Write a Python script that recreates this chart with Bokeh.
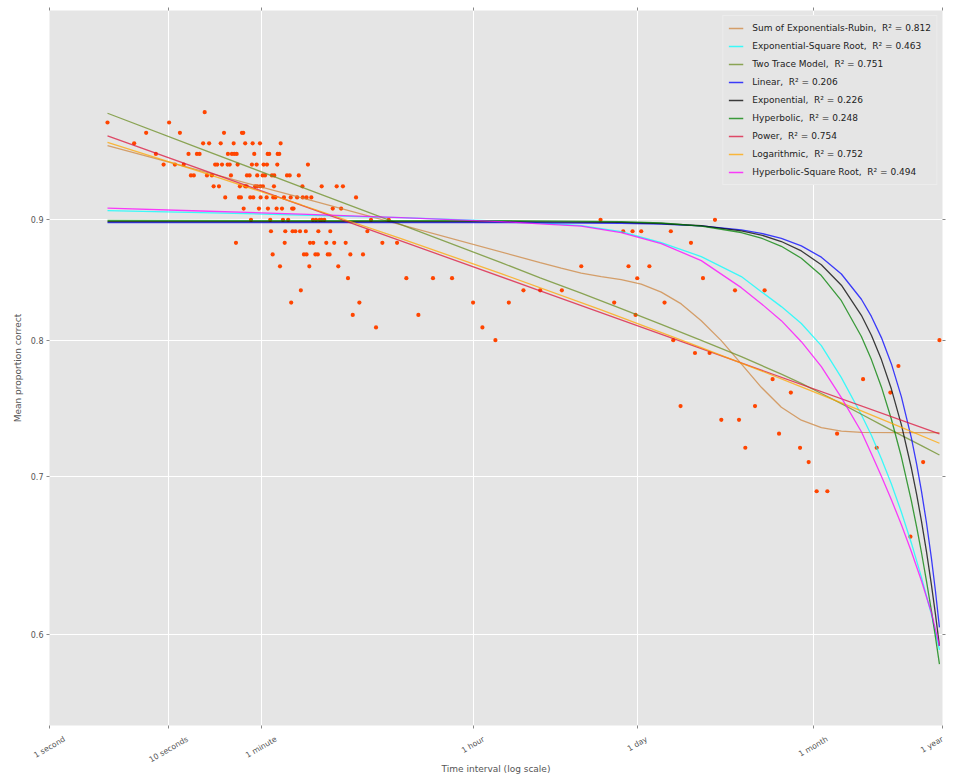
import math
from bokeh.plotting import figure
from bokeh.models import (LogAxis, FixedTicker, PrintfTickFormatter,
                          CustomJSTickFormatter, Legend, LegendItem)
from bokeh.embed import file_html
from bokeh.resources import INLINE

# ---------------------------------------------------------------------------
# Observed retention data: time interval (seconds) and mean proportion correct
# ---------------------------------------------------------------------------
interval_s = [
    20.1,
    3.07, 10.1,
    6.48, 12.45, 29.2, 41.3, 42.4,
    5.14, 19.5, 21.9, 27.4, 35.2, 44.0, 50.8, 58.5, 87.3,
    7.82, 14.7, 17.3, 18.2, 31.5, 34.0, 35.6, 37.3, 52.4, 67.9, 70.0, 82.4, 85.0,
    9.08, 11.3, 13.4, 24.6, 25.6, 28.1, 31.3, 32.6, 38.0, 50.1, 54.9, 62.8, 67.0, 81.8, 148,
    15.4, 16.3, 21.0, 23.1, 33.4, 45.5, 47.9, 55.5, 61.7, 64.5, 73.8, 77.2, 98.7, 104, 124,
    23.9, 26.5, 39.7, 44.0, 45.2, 53.4, 55.5, 58.9, 62.0, 76.7, 133, 193, 258, 291,
    29.9, 39.0, 40.5, 48.5, 51.4, 59.3, 66.6, 75.7, 78.7, 93.1, 106, 120, 134, 144, 158, 375,
    42.7, 57.4, 68.3, 80.8, 89.6, 109, 112, 239, 281,
    49.2, 71.4, 91.3, 101, 163, 173, 186, 193, 203, 501, 706, 42400, 387500,
    72.4, 95.5, 110, 116, 127, 142, 181, 228, 467, 65700, 78700, 93100, 165000,
    36.8, 94.4, 154, 164, 211, 246, 307, 624, 829, 243600,
    74.8, 137, 144, 171, 179, 217, 225, 336, 429,
    86.2, 152, 266, 29200, 72800, 109000,
    321, 992, 1660, 2400, 86150, 307200,
    129, 9550, 13190, 20070, 570600, 1012000,
    107, 400, 3606, 7196, 55200, 146100,
    352, 1252, 83400,
    552, 4319,
    5553, 172900, 29730000,
    263200, 349100,
    13450000,
    1181000, 6790000,
    1680000, 11510000,
    199100, 840400,
    437800, 616600,
    1337000, 4107000,
    696500, 2007000, 8838000,
    2371000, 21690000,
    2767000, 3404000,
    16960000,
]
proportion = [
    1.00,
    0.99, 0.99,
    0.98, 0.98, 0.98, 0.98, 0.98,
    0.97, 0.97, 0.97, 0.97, 0.97, 0.97, 0.97, 0.97, 0.97,
    0.96, 0.96, 0.96, 0.96, 0.96, 0.96, 0.96, 0.96, 0.96, 0.96, 0.96, 0.96, 0.96,
    0.95, 0.95, 0.95, 0.95, 0.95, 0.95, 0.95, 0.95, 0.95, 0.95, 0.95, 0.95, 0.95, 0.95, 0.95,
    0.94, 0.94, 0.94, 0.94, 0.94, 0.94, 0.94, 0.94, 0.94, 0.94, 0.94, 0.94, 0.94, 0.94, 0.94,
    0.93, 0.93, 0.93, 0.93, 0.93, 0.93, 0.93, 0.93, 0.93, 0.93, 0.93, 0.93, 0.93, 0.93,
    0.92, 0.92, 0.92, 0.92, 0.92, 0.92, 0.92, 0.92, 0.92, 0.92, 0.92, 0.92, 0.92, 0.92, 0.92, 0.92,
    0.91, 0.91, 0.91, 0.91, 0.91, 0.91, 0.91, 0.91, 0.91,
    0.90, 0.90, 0.90, 0.90, 0.90, 0.90, 0.90, 0.90, 0.90, 0.90, 0.90, 0.90, 0.90,
    0.89, 0.89, 0.89, 0.89, 0.89, 0.89, 0.89, 0.89, 0.89, 0.89, 0.89, 0.89, 0.89,
    0.88, 0.88, 0.88, 0.88, 0.88, 0.88, 0.88, 0.88, 0.88, 0.88,
    0.87, 0.87, 0.87, 0.87, 0.87, 0.87, 0.87, 0.87, 0.87,
    0.86, 0.86, 0.86, 0.86, 0.86, 0.86,
    0.85, 0.85, 0.85, 0.85, 0.85, 0.85,
    0.84, 0.84, 0.84, 0.84, 0.84, 0.84,
    0.83, 0.83, 0.83, 0.83, 0.83, 0.83,
    0.82, 0.82, 0.82,
    0.81, 0.81,
    0.80, 0.80, 0.80,
    0.79, 0.79,
    0.78,
    0.77, 0.77,
    0.76, 0.76,
    0.75, 0.75,
    0.74, 0.74,
    0.73, 0.73,
    0.72, 0.72, 0.72,
    0.71, 0.71,
    0.69, 0.69,
    0.66,
]

# ---------------------------------------------------------------------------
# Fitted model curves (time in seconds, predicted proportion correct)
# ---------------------------------------------------------------------------
sumexp_t = [3.07, 129.3, 13190, 19800, 29150, 42930, 63220, 93090, 137100, 201800,
            297300, 437800, 644600, 949100, 1.398e6, 2.058e6, 3.030e6, 4.462e6,
            6.571e6, 1.425e7, 2.973e7]
sumexp_v = [0.9679, 0.9197, 0.8631, 0.8585, 0.8543, 0.8514, 0.8489, 0.8451, 0.8385, 0.8289,
            0.8154, 0.7996, 0.7816, 0.7639, 0.7491, 0.7397, 0.7343, 0.7318,
            0.7309, 0.7307, 0.7307]

sqrt_t = [3.07, 18.68, 129.3, 895.8, 6200, 13190, 29150, 63220, 137100, 297300, 644600,
          949100, 1.398e6, 2.058e6, 3.030e6, 4.462e6, 6.571e6, 7.974e6, 9.676e6, 1.174e7,
          1.425e7, 1.729e7, 2.098e7, 2.546e7, 2.973e7]
expsqrt_v = [0.9082, 0.9064, 0.9042, 0.9020, 0.8989, 0.8972, 0.8950, 0.8897, 0.8802, 0.8682,
             0.8514, 0.8389, 0.8267, 0.8131, 0.7957, 0.7712, 0.7437, 0.7289, 0.7123, 0.6949,
             0.6760, 0.6558, 0.6344, 0.6115, 0.5908]
hypsqrt_v = [0.9103, 0.9078, 0.9051, 0.9020, 0.8985, 0.8965, 0.8945, 0.8888, 0.8793, 0.8648,
             0.8422, 0.8291, 0.8154, 0.7988, 0.7795, 0.7562, 0.7314, 0.7158, 0.7002, 0.6843,
             0.6677, 0.6503, 0.6321, 0.6126, 0.5931]

twotrace_t = [3.07, 18.68, 129.3, 895.8, 6200, 13190, 29150, 63220, 137100, 297300, 644600,
              1.398e6, 2.058e6, 3.030e6, 4.462e6, 6.571e6, 9.676e6, 1.425e7, 2.098e7, 2.973e7]
twotrace_v = [0.9990, 0.9648, 0.9295, 0.8957, 0.8631, 0.8503, 0.8377, 0.8251, 0.8124, 0.7999,
              0.7872, 0.7738, 0.7669, 0.7593, 0.7518, 0.7440, 0.7363, 0.7288, 0.7215, 0.7149]

decay_t = [3.07, 6200, 63220, 137100, 297300, 644600, 949100, 1.398e6, 2.058e6, 3.030e6,
           4.462e6, 6.571e6, 7.974e6, 9.676e6, 1.174e7, 1.425e7, 1.729e7, 1.916e7, 2.098e7,
           2.312e7, 2.546e7, 2.751e7, 2.973e7]
linear_v = [0.8976, 0.8975, 0.8970, 0.8962, 0.8947, 0.8912, 0.8882, 0.8838, 0.8773, 0.8677,
            0.8535, 0.8327, 0.8188, 0.8020, 0.7816, 0.7568, 0.7268, 0.7083, 0.6903,
            0.6692, 0.6461, 0.6258, 0.6039]
exponential_v = [0.8985, 0.8984, 0.8977, 0.8968, 0.8948, 0.8904, 0.8867, 0.8811, 0.8730, 0.8613,
                 0.8442, 0.8197, 0.8038, 0.7849, 0.7626, 0.7363, 0.7057, 0.6875, 0.6703,
                 0.6505, 0.6296, 0.6118, 0.5931]
hyperbolic_v = [0.8994, 0.8993, 0.8984, 0.8972, 0.8945, 0.8889, 0.8841, 0.8770, 0.8668, 0.8522,
                0.8315, 0.8029, 0.7849, 0.7642, 0.7404, 0.7135, 0.6833, 0.6660, 0.6500,
                0.6321, 0.6137, 0.5983, 0.5826]

power_t = [3.07, 129.3, 13190, 949100, 2.973e7]
power_v = [0.9772, 0.9131, 0.8396, 0.7769, 0.7298]

log_t = [3.07, 18.68, 129.3, 895.8, 6200, 42930, 297300, 949100, 2.058e6, 6.571e6,
         1.425e7, 2.973e7]
log_v = [0.9710, 0.9432, 0.9134, 0.8836, 0.8538, 0.8240, 0.7941, 0.7763, 0.7643, 0.7465,
         0.7345, 0.7232]

# Legend names and goodness of fit
model_names = ["Sum of Exponentials-Rubin", "Exponential-Square Root", "Two Trace Model",
               "Linear", "Exponential", "Hyperbolic", "Power", "Logarithmic",
               "Hyperbolic-Square Root"]
r_squared = ["0.812", "0.463", "0.751", "0.206", "0.226", "0.248", "0.754", "0.752", "0.494"]

# Axis ticks
tick_seconds = [1, 10, 60, 3600, 86400, 2592000, 31536000]
tick_labels = ["1 second", "10 seconds", "1 minute", "1 hour", "1 day", "1 month", "1 year"]
y_ticks = [0.6, 0.7, 0.8, 0.9]

# ---------------------------------------------------------------------------
X_LO, X_HI = 1.0, 31536000.0
Y_LO, Y_HI = 0.5486, 1.1047
FRAME_W = 893.0
FONT = "DejaVu Sans"
TICK_GREY = "#555555"

p = figure(width=953, height=780, x_axis_type="log", y_axis_type="log",
           x_range=(X_LO, X_HI), y_range=(Y_LO, Y_HI),
           output_backend="svg", toolbar_location=None,
           min_border_left=49, min_border_right=11, min_border_top=10, min_border_bottom=55,
           background_fill_color="#E5E5E5", border_fill_color="white",
           outline_line_color=None)

# grid
xt = FixedTicker(ticks=tick_seconds)
yt = FixedTicker(ticks=y_ticks)
p.xaxis.ticker = xt
p.xgrid.ticker = xt
p.yaxis.ticker = yt
p.ygrid.ticker = yt
p.grid.grid_line_color = "white"
p.grid.grid_line_width = 1

# left axis
p.yaxis.formatter = PrintfTickFormatter(format="%.1f")
p.yaxis.axis_label = "Mean proportion correct"
p.yaxis.axis_label_standoff = 5
p.yaxis.major_label_text_font_size = "8px"
p.yaxis.major_label_standoff = 3
p.yaxis.major_label_text_font = FONT
p.yaxis.major_label_text_color = TICK_GREY
p.yaxis.axis_label_text_font = FONT
p.yaxis.axis_label_text_font_size = "9px"
p.yaxis.axis_label_text_font_style = "normal"
p.yaxis.axis_label_text_color = TICK_GREY

# bottom axis carries only the tick marks
p.xaxis.formatter = CustomJSTickFormatter(code="return ''")
p.xaxis.major_label_text_font_size = "0px"
p.xaxis.major_label_standoff = 0

for ax in (p.xaxis[0], p.yaxis[0]):
    ax.axis_line_color = None
    ax.major_tick_in = 0
    ax.major_tick_out = 3
    ax.major_tick_line_color = "#888888"
    ax.minor_tick_line_color = None

# tick marks on the top and right edges
for side, ticker in (("above", FixedTicker(ticks=tick_seconds)),
                     ("right", FixedTicker(ticks=y_ticks))):
    ax = LogAxis(ticker=ticker, formatter=CustomJSTickFormatter(code="return ''"),
                 major_label_text_font_size="0px", major_label_standoff=0,
                 axis_line_color=None, major_tick_in=0, major_tick_out=3,
                 major_tick_line_color="#888888", minor_tick_line_color=None)
    p.add_layout(ax, side)

# Rotated time labels: Bokeh anchors a rotated label by its end, so each anchor is
# moved right by half the label's slanted width to centre the text on its tick.
label_shift_px = [15.1, 18.9, 14.9, 10.8, 9.3, 14.0, 0.0]
label_anchor = [min(s * (X_HI / X_LO) ** (d / FRAME_W), X_HI)
                for s, d in zip(tick_seconds, label_shift_px)]
time_axis = LogAxis(ticker=FixedTicker(ticks=label_anchor),
                    formatter=CustomJSTickFormatter(args=dict(names=tick_labels),
                                                    code="return names[index]"),
                    major_label_orientation=math.radians(30),
                    major_label_standoff=10, major_label_text_font=FONT,
                    major_label_text_font_size="7.7px", major_label_text_color=TICK_GREY,
                    axis_line_color=None, major_tick_line_color=None,
                    major_tick_in=0, major_tick_out=0, minor_tick_line_color=None,
                    axis_label="Time interval (log scale)", axis_label_standoff=-7,
                    axis_label_text_font=FONT, axis_label_text_font_size="9px",
                    axis_label_text_font_style="normal", axis_label_text_color=TICK_GREY)
p.add_layout(time_axis, "below")

# observations
p.scatter(interval_s, proportion, marker="circle", size=4.2,
          fill_color="#FF4500", line_color=None)

# model fits
curves = [
    (sumexp_t, sumexp_v, "peru"),
    (sqrt_t, expsqrt_v, "cyan"),
    (twotrace_t, twotrace_v, "olivedrab"),
    (decay_t, linear_v, "blue"),
    (decay_t, exponential_v, "black"),
    (decay_t, hyperbolic_v, "green"),
    (power_t, power_v, "crimson"),
    (log_t, log_v, "orange"),
    (sqrt_t, hypsqrt_v, "magenta"),
]
items = []
for (tx, vy, col), name, r2 in zip(curves, model_names, r_squared):
    r = p.line(tx, vy, line_color=col, line_width=1.3, line_alpha=0.75)
    items.append(LegendItem(label=f"{name},  R\u00b2 = {r2}", renderers=[r]))

legend = Legend(items=items, location="top_right", margin=5, padding=5, spacing=4,
                label_height=14, glyph_height=14, glyph_width=15, label_standoff=9,
                label_text_font=FONT, label_text_font_size="9px", label_text_color="#222222",
                background_fill_color="#E5E5E5", background_fill_alpha=1.0,
                border_line_color="#F4F4F4", border_line_width=1)
p.add_layout(legend)

open("out.html", "w").write(file_html(p, INLINE))
